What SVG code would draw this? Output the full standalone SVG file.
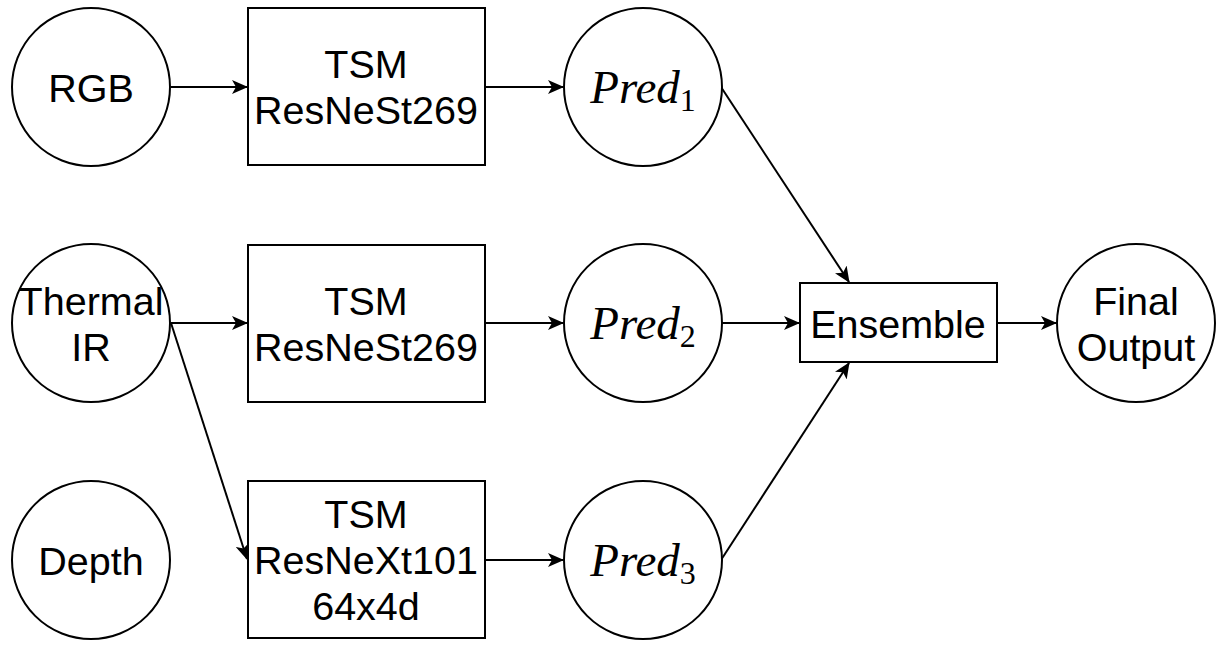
<svg xmlns="http://www.w3.org/2000/svg" width="1225" height="648" viewBox="0 0 1225 648">
<style>
.n{fill:#fff;stroke:#000;stroke-width:2}
.t{font-family:"Liberation Sans",Arial,sans-serif;font-size:39.5px;text-anchor:middle;fill:#000}
.m{font-family:"Liberation Serif","Times New Roman",serif;font-size:47px;font-style:italic;text-anchor:middle;fill:#000}
.s{font-style:normal;font-size:32px}
.c{fill:none;stroke:#000;stroke-width:2}
</style>
<defs>
<marker id="a" viewBox="0 0 16 14" refX="15" refY="7" markerWidth="16" markerHeight="14" markerUnits="userSpaceOnUse" orient="auto">
<path d="M0,0 L16,7 L0,14 L4,7 Z" fill="#000"/>
</marker>
</defs>
<rect width="1225" height="648" fill="#fff"/>
<g id="connectors">
<path class="c" d="M171,87 H247" marker-end="url(#a)"/>
<path class="c" d="M485,87 H563" marker-end="url(#a)"/>
<path class="c" d="M171,323 H247" marker-end="url(#a)"/>
<path class="c" d="M485,323 H563" marker-end="url(#a)"/>
<path class="c" d="M171,323 L247,559" marker-end="url(#a)"/>
<path class="c" d="M485,560 H563" marker-end="url(#a)"/>
<path class="c" d="M721,87 L849,282" marker-end="url(#a)"/>
<path class="c" d="M721,323 H799" marker-end="url(#a)"/>
<path class="c" d="M721,560 L849,363" marker-end="url(#a)"/>
<path class="c" d="M997,323 H1056" marker-end="url(#a)"/>
</g>
<g id="rgb"><circle class="n" cx="91" cy="87" r="79"/><text class="t" x="91" y="102">RGB</text></g>
<g id="thermal"><circle class="n" cx="91" cy="323" r="79"/><text class="t" x="91" y="315">Thermal</text><text class="t" x="91" y="361">IR</text></g>
<g id="depth"><circle class="n" cx="91" cy="560" r="79"/><text class="t" x="91" y="575">Depth</text></g>
<g id="tsm1"><rect class="n" x="248" y="8" width="237" height="157"/><text class="t" x="366" y="78">TSM</text><text class="t" x="366" y="124">ResNeSt269</text></g>
<g id="tsm2"><rect class="n" x="248" y="245" width="237" height="157"/><text class="t" x="366" y="315">TSM</text><text class="t" x="366" y="361">ResNeSt269</text></g>
<g id="tsm3"><rect class="n" x="248" y="481" width="237" height="157"/><text class="t" x="366" y="528">TSM</text><text class="t" x="366" y="574">ResNeXt101</text><text class="t" x="366" y="620">64x4d</text></g>
<g id="pred1"><circle class="n" cx="643" cy="87" r="79"/><text class="m" x="643" y="103">Pred<tspan class="s" dy="8">1</tspan></text></g>
<g id="pred2"><circle class="n" cx="643" cy="323" r="79"/><text class="m" x="643" y="339">Pred<tspan class="s" dy="8">2</tspan></text></g>
<g id="pred3"><circle class="n" cx="643" cy="560" r="79"/><text class="m" x="643" y="576">Pred<tspan class="s" dy="8">3</tspan></text></g>
<g id="ensemble"><rect class="n" x="800" y="283" width="197" height="79"/><text class="t" x="898" y="338">Ensemble</text></g>
<g id="final"><circle class="n" cx="1136" cy="323" r="79"/><text class="t" x="1136" y="315">Final</text><text class="t" x="1136" y="361">Output</text></g>
</svg>
